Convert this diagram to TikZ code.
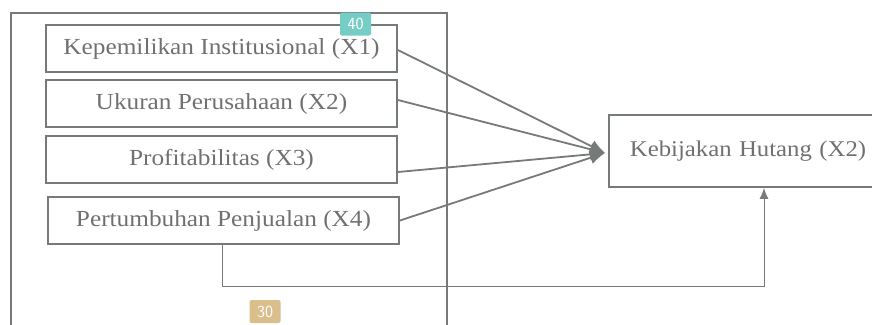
\documentclass[tikz,border=0pt]{standalone}
\usepackage{fontspec}
\setmainfont{Liberation Serif}[FakeStretch=1.1]
\usepackage{tikz}
\usetikzlibrary{arrows.meta,positioning}

\definecolor{linegray}{RGB}{118,122,120}
\definecolor{textgray}{RGB}{112,112,112}
\definecolor{tealbadge}{RGB}{118,205,198}
\definecolor{tanbadge}{RGB}{218,190,140}

\tikzset{
	var/.style={draw=linegray, line width=1.8pt, minimum width=351pt, minimum height=47pt,
		text=textgray, font=\fontsize{23}{26}\selectfont, inner sep=0pt},
	link/.style={draw=linegray, line width=1.8pt, -{Latex[length=15pt,width=13pt]}},
	badge/.style={rounded corners=2pt, text=white, font=\fontsize{17}{18}\selectfont\sffamily,
		minimum width=31pt, minimum height=23pt, inner sep=0pt}
}

\begin{document}
\begin{tikzpicture}[x=1pt, y=-1pt]
	\useasboundingbox (0,0) rectangle (872,324);
	\draw[linegray, line width=1.4pt] (11,13) rectangle (447,340);
	\node[var] (x1) at (221.5,48.5) {Kepemilikan Institusional (X1)};
	\node[var] (x2) at (221.5,103.5) {Ukuran Perusahaan (X2)};
	\node[var] (x3) at (221.5,159.5) {Profitabilitas (X3)};
	\node[var] (x4) at (223.5,220.5) {Pertumbuhan Penjualan (X4)};
	\node[var, minimum width=290pt, minimum height=72pt, anchor=west, inner xsep=21pt,
		text width=248pt, align=left, font=\fontsize{22.5}{26}\selectfont] (y) at (608,151) {Kebijakan Hutang (X2)};
	\coordinate (tip) at (605,153);
	\coordinate (turn) at (222,286);
	\path
		([yshift=-1.5pt]x1.east) edge[link] (tip)
		([yshift=3.5pt]x2.east) edge[link] (tip)
		([yshift=-12.5pt]x3.east) edge[link] (tip)
		(x4.east) edge[link] (tip);
	\draw[linegray, line width=1pt, -{Latex[length=11pt,width=9pt]}]
		(turn |- x4.south) -- (turn) -| ([xshift=156pt]y.south west);
	\node[badge, fill=tealbadge] (b40) at (355.5,24) {40};
	\node[badge, fill=tanbadge] (b30) at (265,311.5) {30};
\end{tikzpicture}
\end{document}
